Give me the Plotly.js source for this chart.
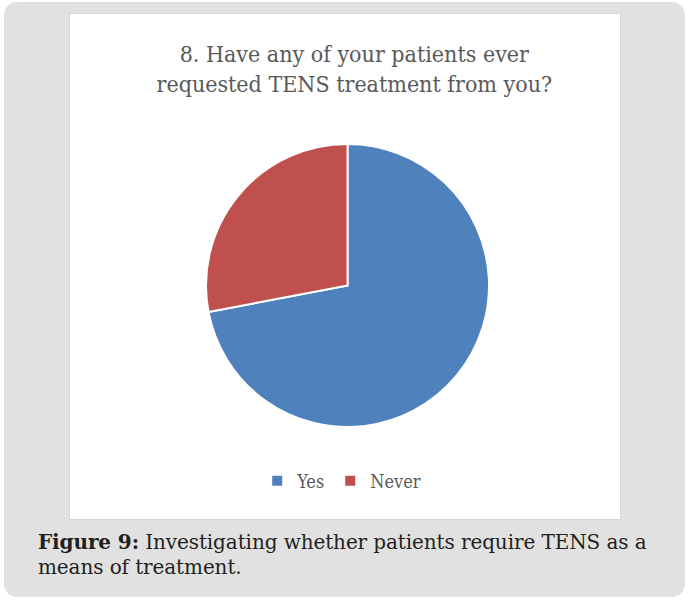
<!DOCTYPE html>
<html>
<head>
<meta charset="utf-8">
<script src="https://cdn.plot.ly/plotly-3.0.1.min.js"></script>
<style>
  html, body { margin: 0; padding: 0; background: #ffffff; width: 688px; height: 601px; overflow: hidden; }
  #panel { position: absolute; left: 4px; top: 2px; width: 681px; height: 595px; background: #e1e1e1; border-radius: 13px; }
  #frame { position: absolute; left: 69px; top: 13px; width: 552px; height: 507px; background: #ffffff; border: 1px solid #d6d6d6; box-sizing: border-box; }
  #chart { position: absolute; left: 71px; top: 15px; width: 548px; height: 503px; }
  #caption { position: absolute; left: 38px; top: 530px; width: 645px; font-family: "DejaVu Serif", serif; font-size: 20px; line-height: 25px; color: #231f20; white-space: nowrap; letter-spacing: -0.1px; }
  #caption b { font-weight: bold; }
</style>
</head>
<body>
<div id="panel"></div>
<div id="frame"></div>
<div id="chart"></div>
<div id="caption"><b>Figure 9:</b> Investigating whether patients require TENS as a<br>means of treatment.</div>
<script>
const chartTitle = "8. Have any of your patients ever<br>requested TENS treatment from you?";
const categories = ["Yes", "Never"];
const values = [72, 28];
const colors = ["#4f81bd", "#c0504d"];

const data = [{
  type: "pie",
  labels: categories,
  values: values,
  sort: false,
  direction: "clockwise",
  rotation: 0,
  marker: { colors: colors, line: { color: "#ffffff", width: 2 } },
  textinfo: "none",
  hoverinfo: "label+percent",
  domain: { x: [0.2464, 0.7628], y: [0.1809, 0.7435] }
}];

const layout = {
  width: 548,
  height: 503,
  margin: { l: 0, r: 0, t: 0, b: 0 },
  paper_bgcolor: "#ffffff",
  plot_bgcolor: "#ffffff",
  title: {
    text: chartTitle,
    font: { family: "DejaVu Serif Condensed, serif", size: 23, color: "#595959" },
    x: 0.517, xanchor: "center",
    y: 1 - 47 / 503, yanchor: "top", yref: "container"
  },
  showlegend: true,
  legend: {
    orientation: "h",
    x: 0.494, xanchor: "center",
    y: 0.0736, yanchor: "middle",
    font: { family: "DejaVu Serif Condensed, serif", size: 18, color: "#595959" },
    bgcolor: "rgba(0,0,0,0)"
  }
};

Plotly.newPlot("chart", data, layout, { displayModeBar: false, staticPlot: true });
</script>
</body>
</html>
